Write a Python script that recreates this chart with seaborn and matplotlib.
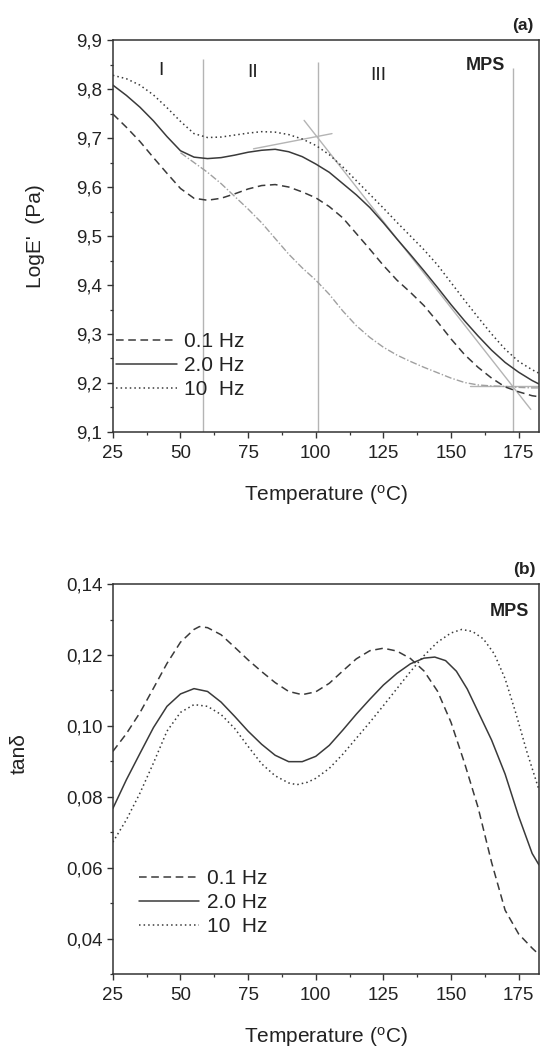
import numpy as np
import pandas as pd
import matplotlib
matplotlib.use("Agg")
import matplotlib.pyplot as plt
from matplotlib.ticker import FuncFormatter, MultipleLocator
import seaborn as sns

# ---------------- data ----------------
# Panel (a): log E' vs temperature
T_a = [25, 30, 35, 40, 45, 50, 55, 60, 65, 70, 75, 80, 85, 90, 95, 100, 105, 110,
       115, 120, 125, 130, 135, 140, 145, 150, 155, 160, 165, 170, 175, 180, 182.5]
logE_01 = [9.749, 9.722, 9.693, 9.660, 9.628, 9.597, 9.577, 9.573, 9.577, 9.586, 9.596,
           9.603, 9.605, 9.600, 9.590, 9.578, 9.560, 9.537, 9.505, 9.473, 9.440, 9.410,
           9.385, 9.358, 9.325, 9.290, 9.258, 9.232, 9.210, 9.192, 9.182, 9.174, 9.172]
logE_20 = [9.808, 9.787, 9.763, 9.735, 9.703, 9.674, 9.661, 9.658, 9.660, 9.665, 9.671,
           9.675, 9.677, 9.672, 9.662, 9.647, 9.630, 9.607, 9.584, 9.558, 9.527, 9.494,
           9.462, 9.429, 9.395, 9.360, 9.327, 9.296, 9.267, 9.242, 9.222, 9.205, 9.198]
logE_10 = [9.828, 9.821, 9.808, 9.788, 9.762, 9.734, 9.709, 9.701, 9.702, 9.706, 9.710,
           9.713, 9.712, 9.707, 9.698, 9.685, 9.666, 9.641, 9.613, 9.585, 9.557, 9.528,
           9.500, 9.472, 9.441, 9.405, 9.369, 9.334, 9.300, 9.269, 9.244, 9.227, 9.220]
# gray dash-dot construction curve
T_aux = [50, 55, 60, 65, 70, 75, 80, 85, 90, 95, 100, 105, 110, 115, 120, 125, 130,
         135, 140, 145, 150, 155, 160, 165, 170, 175, 180, 182.5]
logE_aux = [9.670, 9.650, 9.630, 9.607, 9.581, 9.555, 9.527, 9.495, 9.463, 9.435, 9.410,
            9.381, 9.347, 9.317, 9.293, 9.273, 9.257, 9.244, 9.232, 9.221, 9.210, 9.201,
            9.196, 9.194, 9.193, 9.191, 9.190, 9.190]
# region boundaries and their upper ends
region_T = [58.2, 101.0, 172.8]
region_top = [9.862, 9.855, 9.842]
region_names = ["I", "II", "III"]
region_label_T = [42.9, 76.7, 123.3]
region_label_y = [9.837, 9.834, 9.828]
# tangent construction lines (start/end points)
tan1_T, tan1_y = [77.0, 106.0], [9.678, 9.709]
tan2_T, tan2_y = [95.7, 179.5], [9.736, 9.146]
tan3_T, tan3_y = [157.0, 182.5], [9.194, 9.194]

# Panel (b): tan delta vs temperature
T_b01 = [25, 30, 35, 40, 45, 50, 55, 57, 60, 65, 70, 75, 80, 85, 90, 95, 100, 105, 110,
         115, 120, 125, 130, 135, 140, 145, 150, 155, 160, 165, 170, 175, 180, 182.5]
tan_01 = [0.0928, 0.0978, 0.1037, 0.1106, 0.1176, 0.1236, 0.1272, 0.1280, 0.1277, 0.1257,
          0.1222, 0.1186, 0.1153, 0.1122, 0.1097, 0.1088, 0.1096, 0.1120, 0.1155, 0.1189,
          0.1212, 0.1219, 0.1211, 0.1190, 0.1155, 0.1098, 0.1010, 0.0895, 0.0770, 0.0615,
          0.0480, 0.0413, 0.0373, 0.0355]
T_b20 = [25, 30, 35, 40, 45, 50, 55, 60, 65, 70, 75, 80, 85, 90, 95, 100, 105, 110, 115,
         120, 125, 130, 135, 140, 144, 148, 152, 156, 160, 165, 170, 175, 180, 182.5]
tan_20 = [0.0767, 0.0848, 0.0922, 0.0995, 0.1055, 0.1090, 0.1105, 0.1097, 0.1067, 0.1027,
          0.0985, 0.0948, 0.0917, 0.0899, 0.0899, 0.0914, 0.0945, 0.0988, 0.1033, 0.1075,
          0.1115, 0.1148, 0.1175, 0.1191, 0.1194, 0.1184, 0.1154, 0.1104, 0.1040, 0.0960,
          0.0864, 0.0745, 0.0640, 0.0608]
T_b10 = [25, 30, 35, 40, 45, 50, 55, 60, 65, 70, 75, 80, 85, 90, 93, 97, 100, 105, 110,
         115, 120, 125, 130, 135, 140, 145, 150, 154, 158, 162, 166, 170, 174, 178, 182.5]
tan_10 = [0.0672, 0.0735, 0.0810, 0.0895, 0.0985, 0.1038, 0.1060, 0.1055, 0.1032, 0.0993,
          0.0942, 0.0893, 0.0859, 0.0839, 0.0834, 0.0841, 0.0852, 0.0880, 0.0920, 0.0965,
          0.1010, 0.1057, 0.1105, 0.1153, 0.1198, 0.1236, 0.1262, 0.1272, 0.1266, 0.1245,
          0.1203, 0.1133, 0.1035, 0.0928, 0.0820]

freq_labels = ["0.1 Hz", "2.0 Hz", "10  Hz"]

# ---------------- styling ----------------
sns.set_theme(style="ticks")
plt.rcParams["font.family"] = ["Liberation Sans", "DejaVu Sans"]
plt.rcParams["mathtext.fontset"] = "custom"
plt.rcParams["mathtext.rm"] = "Liberation Sans"

INK = "#3a3a3a"
SPINE = "#333333"
LIGHT = "#b4b4b4"
styles = [(0, (5, 3)), "-", (0, (1, 2))]
LW = 1.1

fig = plt.figure(figsize=(5.4, 10.48), dpi=100)
ax1 = fig.add_axes([0.209, 0.5878, 0.789, 0.374])
ax2 = fig.add_axes([0.209, 0.0706, 0.789, 0.3721])

for ax in (ax1, ax2):
    for s in ax.spines.values():
        s.set_color(SPINE)
        s.set_linewidth(1.1)
    ax.tick_params(which="major", direction="out", length=4, width=1.0,
                   color=SPINE, labelsize=13.5, pad=3.5, labelcolor="#222222")
    ax.tick_params(axis="x", which="major", pad=5.5)
    ax.tick_params(which="minor", direction="out", length=2.4, width=0.9, color=SPINE)
    ax.set_xlim(25, 182.5)
    ax.xaxis.set_major_locator(MultipleLocator(25))
    ax.xaxis.set_minor_locator(MultipleLocator(12.5))
    ax.set_xlabel("Temperature ($\\mathregular{^o}$C)", fontsize=15, labelpad=15,
                  color="#222222")

# ---- panel (a) ----
ax1.vlines(region_T, 9.1, region_top, colors=LIGHT, linewidth=1.0, zorder=1)
ax1.plot(tan1_T, tan1_y, color=LIGHT, lw=1.0, zorder=1)
ax1.plot(tan2_T, tan2_y, color=LIGHT, lw=1.0, zorder=1)
ax1.plot(tan3_T, tan3_y, color=LIGHT, lw=1.0, zorder=1)
sns.lineplot(x=T_aux, y=logE_aux, ax=ax1, color="#a0a0a0", linewidth=1.0,
             linestyle=(0, (5, 1.5, 1, 1.5)), zorder=2)

for vals, ls, lab in zip([logE_01, logE_20, logE_10], styles, freq_labels):
    sns.lineplot(x=T_a, y=vals, ax=ax1, color=INK, linewidth=LW, linestyle=ls,
                 label=lab, zorder=3)

ax1.set_ylim(9.1, 9.9)
ax1.yaxis.set_major_locator(MultipleLocator(0.1))
ax1.yaxis.set_minor_locator(MultipleLocator(0.05))
ax1.yaxis.set_major_formatter(FuncFormatter(lambda v, p: f"{v:.1f}".replace(".", ",")))
ax1.set_ylabel("LogE'  (Pa)", fontsize=15, color="#222222")
ax1.yaxis.set_label_coords(-0.16, 0.5)

for name, tx, ty in zip(region_names, region_label_T, region_label_y):
    ax1.text(tx, ty, name, fontsize=14, ha="center", va="center", color="#222222")
ax1.text(162.6, 9.849, "MPS", fontsize=13, fontweight="bold", ha="center", va="center",
         color="#222222")
ax1.text(0.962, 1.038, "(a)", transform=ax1.transAxes, fontsize=12.5, fontweight="bold",
         ha="center", va="center", color="#222222")

leg1 = ax1.legend(loc="center left", bbox_to_anchor=(0.008, 0.169), frameon=False,
                  fontsize=15, handlelength=2.9, handletextpad=0.35, labelspacing=0.25,
                  borderpad=0, borderaxespad=0)
for t in leg1.get_texts():
    t.set_color("#222222")

# ---- panel (b) ----
for tx, vals, ls, lab in zip([T_b01, T_b20, T_b10], [tan_01, tan_20, tan_10], styles,
                             freq_labels):
    sns.lineplot(x=tx, y=vals, ax=ax2, color=INK, linewidth=LW, linestyle=ls, label=lab)

ax2.set_ylim(0.03, 0.14)
ax2.yaxis.set_minor_locator(MultipleLocator(0.01))
ax2.set_yticks([0.04, 0.06, 0.08, 0.10, 0.12, 0.14])
ax2.yaxis.set_major_formatter(FuncFormatter(lambda v, p: f"{v:.2f}".replace(".", ",")))
ax2.set_ylabel("tanδ", fontsize=15, color="#222222")
ax2.yaxis.set_label_coords(-0.197, 0.565)
ax2.text(171.5, 0.1322, "MPS", fontsize=13, fontweight="bold", ha="center", va="center",
         color="#222222")
ax2.text(0.966, 1.038, "(b)", transform=ax2.transAxes, fontsize=12.5, fontweight="bold",
         ha="center", va="center", color="#222222")

leg2 = ax2.legend(loc="center left", bbox_to_anchor=(0.061, 0.183), frameon=False,
                  fontsize=15, handlelength=2.9, handletextpad=0.35, labelspacing=0.25,
                  borderpad=0, borderaxespad=0)
for t in leg2.get_texts():
    t.set_color("#222222")

fig.savefig("out.png", dpi=100)
